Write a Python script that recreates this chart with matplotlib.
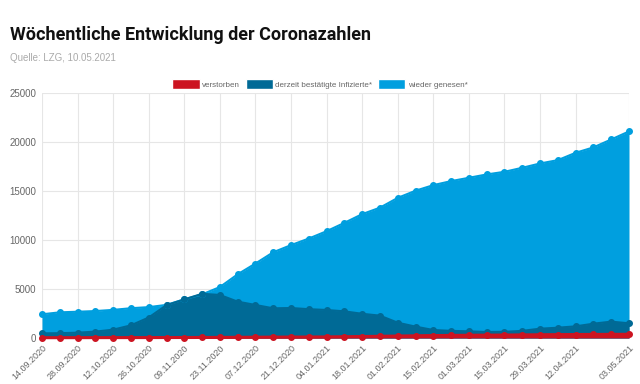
import matplotlib.pyplot as plt
import numpy as np

dates = ["14.09.2020", "21.09.2020", "28.09.2020", "05.10.2020", "12.10.2020", "19.10.2020",
         "26.10.2020", "02.11.2020", "09.11.2020", "16.11.2020", "23.11.2020", "30.11.2020",
         "07.12.2020", "14.12.2020", "21.12.2020", "28.12.2020", "04.01.2021", "11.01.2021",
         "18.01.2021", "25.01.2021", "01.02.2021", "08.02.2021", "15.02.2021", "22.02.2021",
         "01.03.2021", "08.03.2021", "15.03.2021", "22.03.2021", "29.03.2021", "05.04.2021",
         "12.04.2021", "19.04.2021", "26.04.2021", "03.05.2021"]

genesen = [2420, 2620, 2680, 2750, 2870, 3040, 3150, 3380, 3950, 4450, 5200, 6500,
           7600, 8750, 9480, 10150, 10900, 11750, 12640, 13300, 14300, 15030, 15600, 16010,
           16350, 16690, 16960, 17370, 17810, 18150, 18900, 19450, 20260, 21080]
infiziert = [476, 490, 544, 650, 850, 1290, 2090, 3350, 3940, 4510, 4390, 3710,
             3370, 3030, 3060, 2940, 2860, 2720, 2470, 2280, 1560, 1160, 816, 730,
             680, 610, 630, 730, 950, 1050, 1190, 1460, 1670, 1500]
verstorben = [30, 32, 35, 37, 40, 42, 45, 48, 50, 55, 60, 70,
              80, 90, 95, 100, 110, 130, 150, 175, 200, 225, 250, 265,
              280, 290, 300, 315, 330, 345, 355, 365, 372, 380]

tick_idx = list(range(0, 31, 2)) + [33]

c_red = '#cc1421'
c_dark = '#006a96'
c_light = '#009fdf'
grey = '#666666'

plt.rcParams['font.family'] = ['Liberation Sans', 'DejaVu Sans']

fig = plt.figure(figsize=(6.4, 3.84), dpi=100)
ax = fig.add_axes([42 / 640, 1 - 338 / 384, 587 / 640, 245 / 384])

x = np.arange(len(dates))
series = [(genesen, c_light, 1.5), (infiziert, c_dark, 1.5), (verstorben, c_red, 2.2)]
for vals, col, lw in series:
    ax.fill_between(x, 0, vals, color=col, lw=0, zorder=2)
    ax.plot(x, vals, color=col, lw=lw, marker='o', ms=4, clip_on=False, zorder=3)

ax.set_xlim(0, len(dates) - 1)
ax.set_ylim(0, 25000)
ax.set_yticks(range(0, 25001, 5000))
ax.set_xticks(tick_idx)
ax.set_xticklabels([dates[i] for i in tick_idx], rotation=45, ha='right',
                   rotation_mode='anchor', fontsize=6.5, color=grey)
ax.tick_params(axis='y', labelsize=7, labelcolor=grey, length=0, pad=4)
ax.tick_params(axis='x', length=0, pad=4)
ax.grid(True, color='#e6e6e6', lw=0.8, zorder=0)
ax.set_axisbelow(True)
for s in ax.spines.values():
    s.set_visible(False)

# legend
handles = [plt.Rectangle((0, 0), 1, 1, facecolor=c, edgecolor='white') for c in (c_red, c_dark, c_light)]
fig.legend(handles, ['verstorben', 'derzeit bestätigte Infizierte*', 'wieder genesen*'],
           loc='center', bbox_to_anchor=(0.5, 1 - 84 / 384), ncol=3, frameon=False,
           fontsize=5.8, labelcolor=grey, handlelength=3.4, handleheight=1.4,
           columnspacing=0.7, handletextpad=0.3)

fig.text(10 / 640, 1 - 35 / 384, 'Wöchentliche Entwicklung der Coronazahlen',
         fontsize=13, fontweight='bold', family='Roboto', va='center', color='#111111')
fig.text(10 / 640, 1 - 58 / 384, 'Quelle: LZG, 10.05.2021',
         fontsize=7, color='#aaaaaa', va='center')

fig.savefig('out.png', dpi=100)
